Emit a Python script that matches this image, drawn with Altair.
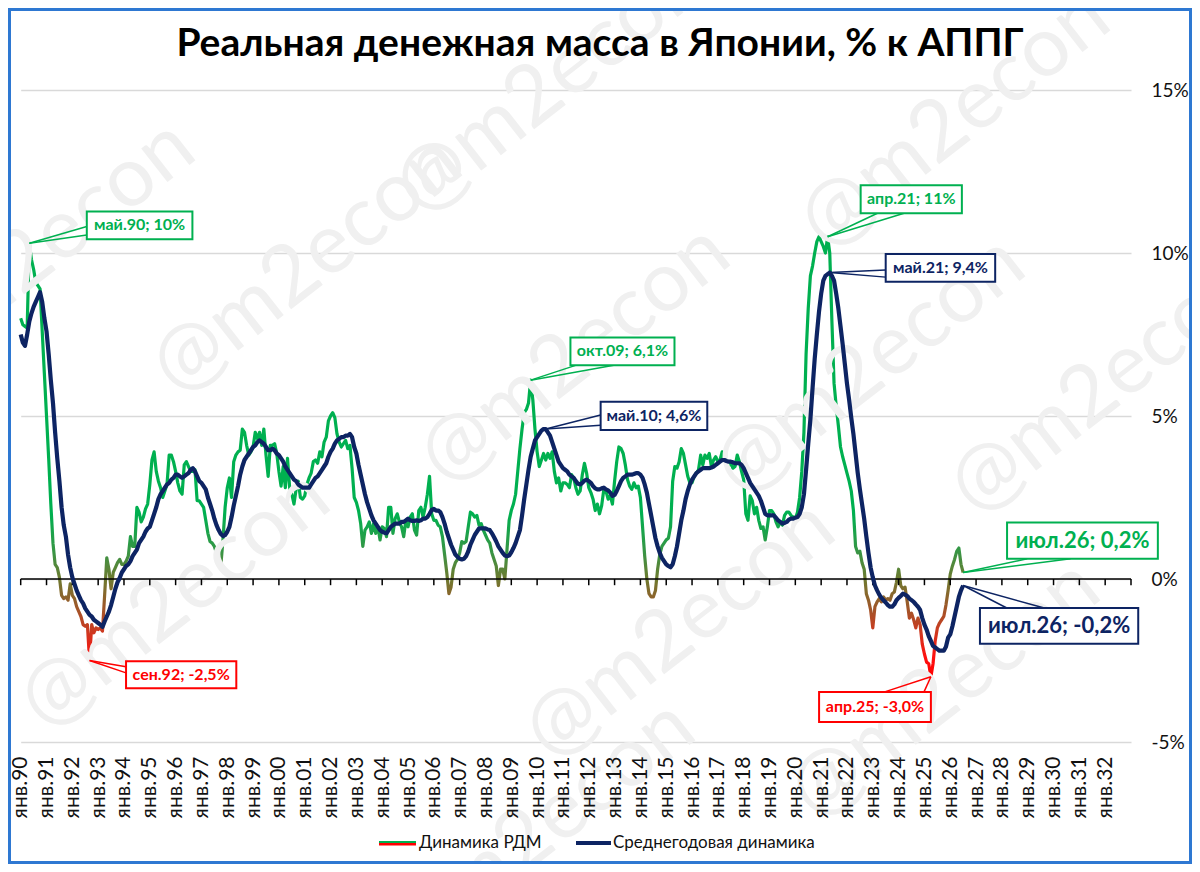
import altair as alt
import pandas as pd

FONT = "Lato, 'Open Sans', sans-serif"
GREEN = "#00B050"
RED = "#FF0000"
NAVY = "#0D2463"

# ---------------- data (monthly, from Jan 1990) ----------------
START_YEAR = 1990

rdm_1990s = [
    8.0, 7.8, 7.75, 7.7, 10.3, 9.8, 9.5, 9.1, 9.0, 8.9, 7.6, 6.3,
    5.0, 3.7, 2.3, 1.1, 0.45, 0.35, 0.05, -0.5, -0.6, -0.55, -0.65, -0.15,
    -0.5, -0.6, -0.85, -1.0, -1.15, -1.4, -1.45, -1.4, -2.5, -1.4, -1.65, -1.5,
    -1.55, -1.5, -1.6, -0.5, 0.65, 0.3, -0.3, 0.2, 0.35, 0.5, 0.6, 0.45,
    0.45, 0.55, 0.7, 1.3, 1.0, 1.0, 2.2, 2.05, 1.75, 1.9, 2.15, 2.3,
    2.9, 3.65, 3.9, 3.3, 3.0, 2.8, 2.5, 2.7, 2.9, 3.8, 3.8, 3.6,
    3.3, 2.95, 2.7, 2.6, 3.5, 3.6, 3.45, 3.3, 3.3, 3.35, 2.4, 2.4,
    2.3, 2.2, 1.8, 1.4, 1.15, 1.1, 1.0, 0.8, 1.0, 0.4, 1.2, 2.2,
    2.8, 3.1, 2.5, 3.6, 3.8, 3.9, 3.95, 4.6, 4.5, 4.1, 3.8, 3.9,
    4.05, 4.5, 4.3, 4.5, 4.1, 4.6, 3.8, 3.15, 4.1, 4.1, 4.15, 3.85,
]
rdm_2000s = [
    3.3, 2.85, 3.45, 2.8, 3.7, 2.8, 2.6, 2.3, 2.75, 3.0, 2.5, 2.45,
    2.55, 2.9, 3.1, 3.25, 3.6, 3.65, 3.55, 3.9, 3.75, 4.2, 4.35, 4.85,
    5.0, 5.1, 4.95, 4.45, 4.2, 4.05, 4.15, 4.25, 4.0, 4.1, 3.4, 2.5,
    2.35, 2.1, 1.7, 1.0, 1.5, 1.6, 1.75, 1.4, 1.7, 1.4, 1.6, 1.2,
    1.6, 1.55, 1.3, 2.2, 2.2, 1.4, 1.85, 2.0, 1.75, 1.6, 1.3, 1.8,
    1.6, 1.9, 2.0, 1.5, 1.35, 2.1, 2.2, 1.9, 2.2, 2.6, 3.15, 2.0,
    1.8, 1.8, 1.65, 1.6, 1.3, 0.75, 0.2, -0.45, -0.25, 0.3, 0.5, 0.6,
    0.8, 1.15, 1.1, 1.15, 1.6, 2.05, 2.0, 1.9, 1.95, 1.65, 1.7, 1.5,
    1.35, 1.2, 1.1, 0.8, 0.6, 0.4, -0.2, 0.3, 0.3, 0.0, 0.9, 1.8,
    2.1, 2.3, 2.6, 3.3, 4.0, 4.6, 5.1, 5.2, 5.4, 6.1, 5.5, 4.6,
]
rdm_2010s = [
    3.9, 3.45, 3.65, 3.85, 3.65, 3.85, 3.7, 3.9, 3.3, 2.95, 3.1, 2.7,
    2.95, 2.95, 2.9, 2.8, 3.2, 3.1, 2.8, 2.6, 2.7, 3.2, 3.55, 3.25,
    2.8, 2.65, 2.45, 2.1, 2.3, 2.0, 2.25, 2.75, 2.7, 2.45, 2.55, 2.3,
    3.0, 3.6, 4.05, 4.0, 3.85, 3.5, 3.05, 2.85, 2.75, 2.95, 2.8, 2.85,
    2.5, 1.6, 0.7, 0.0, -0.45, -0.55, -0.55, -0.35, 0.3, 0.75, 1.0, 1.1,
    1.2, 1.25, 1.6, 3.0, 3.45, 3.4, 3.6, 4.0, 3.85, 3.5, 3.15, 2.95,
    2.95, 3.15, 3.25, 3.35, 3.8, 3.5, 3.8, 3.7, 3.85, 3.45, 3.65, 3.75,
    3.6, 3.65, 3.9, 3.7, 3.6, 3.45, 3.6, 3.4, 3.45, 3.8, 3.6, 3.3,
    3.05, 2.0, 1.8, 2.55, 2.4, 2.0, 2.2, 1.8, 1.55, 1.6, 1.2, 1.6,
    2.1, 2.1, 2.0, 1.75, 1.6, 1.75, 1.65, 1.95, 2.05, 2.05, 1.95, 1.9,
]
rdm_2020s = [
    1.85, 2.05, 2.5, 3.3, 4.5, 6.9, 8.3, 9.3, 9.6, 10.0, 10.35, 10.5,
    10.35, 10.2, 10.0, 10.5, 10.0, 7.9, 6.0, 5.3, 4.7, 4.05, 3.75, 3.5,
    3.25, 3.0, 2.7, 2.1, 1.0, 0.8, 0.85, 0.5, 0.3, -0.45, -0.65, -0.95,
    -1.5, -0.85, -0.7, -0.6, -0.7, -0.55, -0.65, -0.6, -0.65, -0.45, -0.4, -0.1,
    0.3, -0.2, -0.3, -0.25, -0.7, -1.2, -1.05, -1.25, -1.5, -1.2, -1.4, -2.0,
    -2.3, -2.55, -2.6, -3.0, -2.6, -1.9, -1.5, -1.35, -1.25, -1.15, -0.8, -0.35,
    0.15, 0.4, 0.6, 0.85, 0.95, 0.45, 0.2,
]

avg_1990s = [
    7.5, 7.25, 7.15, 7.5, 7.9, 8.15, 8.35, 8.5, 8.65, 8.8, 8.5, 8.0,
    7.6, 6.9, 6.1, 5.4, 4.5, 3.7, 3.0, 2.2, 1.65, 1.3, 0.75, 0.35,
    0.05, -0.15, -0.35, -0.5, -0.65, -0.75, -0.9, -1.0, -1.1, -1.15, -1.25, -1.3,
    -1.35, -1.4, -1.47, -1.3, -1.15, -1.0, -0.8, -0.55, -0.3, -0.1, 0.03, 0.2,
    0.3, 0.4, 0.45, 0.55, 0.7, 0.8, 0.9, 1.1, 1.2, 1.3, 1.45, 1.55,
    1.6, 1.8, 2.0, 2.2, 2.45, 2.6, 2.7, 2.8, 2.9, 2.95, 3.05, 3.1,
    3.2, 3.2, 3.15, 3.1, 3.15, 3.2, 3.25, 3.35, 3.4, 3.3, 3.15, 3.0,
    2.95, 2.85, 2.75, 2.5, 2.3, 2.1, 1.85, 1.65, 1.5, 1.38, 1.32, 1.35,
    1.45, 1.6, 1.9, 2.25, 2.55, 2.85, 3.2, 3.45, 3.65, 3.75, 3.85, 3.95,
    4.05, 4.1, 4.2, 4.25, 4.2, 4.15, 4.05, 3.95, 3.95, 4.0, 3.95, 3.85,
]
avg_2000s = [
    3.8, 3.7, 3.6, 3.45, 3.35, 3.25, 3.15, 3.05, 3.0, 2.9, 2.85, 2.8,
    2.8, 2.8, 2.8, 2.9, 3.0, 3.1, 3.15, 3.25, 3.35, 3.45, 3.55, 3.75,
    3.9, 4.0, 4.15, 4.25, 4.3, 4.35, 4.35, 4.4, 4.4, 4.45, 4.35, 4.05,
    3.85, 3.5, 3.2, 2.9, 2.6, 2.35, 2.15, 1.95, 1.8, 1.7, 1.6, 1.5,
    1.45, 1.42, 1.4, 1.5, 1.6, 1.65, 1.7, 1.7, 1.7, 1.75, 1.75, 1.8,
    1.85, 1.8, 1.78, 1.78, 1.8, 1.78, 1.8, 1.85, 1.85, 1.9, 2.0, 2.12,
    2.15, 2.1, 2.1, 2.05, 1.9, 1.7, 1.45, 1.25, 1.05, 0.9, 0.75, 0.68,
    0.62, 0.6, 0.62, 0.7, 0.85, 1.05, 1.2, 1.35, 1.45, 1.55, 1.55, 1.55,
    1.55, 1.52, 1.5, 1.4, 1.28, 1.15, 1.0, 0.9, 0.8, 0.72, 0.7, 0.72,
    0.82, 0.95, 1.1, 1.3, 1.5, 1.95, 2.45, 2.9, 3.35, 3.75, 4.0, 4.25,
]
avg_2010s = [
    4.35, 4.45, 4.55, 4.6, 4.6, 4.5, 4.4, 4.2, 4.0, 3.8, 3.6, 3.5,
    3.4, 3.35, 3.3, 3.2, 3.15, 3.1, 3.0, 2.92, 2.9, 2.95, 3.02, 3.05,
    3.0, 2.95, 2.85, 2.78, 2.75, 2.75, 2.78, 2.8, 2.75, 2.72, 2.65, 2.55,
    2.58, 2.7, 2.85, 3.0, 3.1, 3.15, 3.2, 3.2, 3.2, 3.22, 3.25, 3.25,
    3.2, 3.1, 2.9, 2.65, 2.3, 1.95, 1.6, 1.25, 1.0, 0.8, 0.65, 0.55,
    0.45, 0.4, 0.36, 0.45, 0.7, 1.0, 1.4, 1.8, 2.1, 2.45, 2.7, 2.9,
    3.05, 3.15, 3.25, 3.3, 3.35, 3.4, 3.4, 3.4, 3.4, 3.42, 3.45, 3.5,
    3.55, 3.6, 3.65, 3.65, 3.62, 3.6, 3.6, 3.58, 3.55, 3.55, 3.55, 3.5,
    3.4, 3.25, 3.1, 2.95, 2.85, 2.75, 2.65, 2.55, 2.4, 2.2, 2.0, 1.95,
    1.95, 1.95, 1.95, 1.88, 1.8, 1.75, 1.7, 1.72, 1.75, 1.82, 1.85, 1.85,
]
avg_2020s = [
    1.88, 1.9, 2.0, 2.2, 2.6, 3.35, 4.15, 4.9, 5.85, 6.75, 7.5, 8.2,
    8.75, 9.15, 9.3, 9.35, 9.4, 9.3, 9.15, 8.75, 8.3, 7.75, 7.2, 6.6,
    6.0, 5.5, 4.95, 4.45, 3.85, 3.25, 2.75, 2.3, 1.85, 1.3, 0.8, 0.35,
    0.05, -0.2, -0.35, -0.48, -0.58, -0.65, -0.72, -0.8, -0.85, -0.85, -0.78, -0.65,
    -0.58, -0.52, -0.45, -0.48, -0.52, -0.6, -0.65, -0.7, -0.78, -0.85, -0.95, -1.2,
    -1.4, -1.55, -1.75, -1.9, -2.05, -2.1, -2.15, -2.2, -2.2, -2.2, -2.08, -1.8,
    -1.7, -1.45, -1.15, -0.85, -0.55, -0.35, -0.2,
]

rdm = rdm_1990s + rdm_2000s + rdm_2010s + rdm_2020s
avg = avg_1990s + avg_2000s + avg_2010s + avg_2020s
t = [START_YEAR + i / 12 for i in range(len(rdm))]
df = pd.DataFrame({"t": t, "rdm": rdm, "avg": avg})

label_years = list(range(1990, 2033))
tick_years = list(range(1990, 2034))
y_ticks = [-5, 0, 5, 10, 15]

# annotations: label, colour, series, month index of the point
ann_label = ["май.90; 10%", "сен.92; -2,5%", "окт.09; 6,1%", "май.10; 4,6%",
             "апр.21; 11%", "май.21; 9,4%", "июл.26; 0,2%", "июл.26; -0,2%",
             "апр.25; -3,0%"]
ann_color = [GREEN, RED, GREEN, NAVY, GREEN, NAVY, GREEN, NAVY, RED]
ann_series = ["rdm", "rdm", "rdm", "avg", "rdm", "avg", "rdm", "avg", "rdm"]
ann_month = [4, 32, 237, 244, 375, 376, 438, 438, 423]
# box placement (data units) and leader end points
ann_box_t = [(1992.56, 1996.65), (1994.08, 1998.35), (2011.29, 2015.32), (2012.46, 2016.59),
             (2022.53, 2026.45), (2023.50, 2027.74), (2028.20, 2034.04), (2027.15, 2033.28),
             (2020.92, 2025.25)]
ann_box_v = [(10.42, 11.27), (-3.35, -2.52), (6.56, 7.41), (4.57, 5.44),
             (11.22, 12.08), (9.12, 9.97), (0.62, 1.73), (-1.99, -0.89),
             (-4.39, -3.47)]
ann_lead = [((1992.56, 10.81), (1992.56, 10.55)), ((1994.08, -2.69), (1994.08, -2.88)),
            ((2011.52, 6.56), (2012.97, 6.56)), ((2012.46, 5.03), (2012.46, 4.72)),
            ((2023.18, 11.22), (2024.21, 11.22)), ((2023.50, 9.48), (2023.50, 9.26)),
            ((2028.98, 0.62), (2030.66, 0.62)), ((2028.19, -0.89), (2029.64, -0.89)),
            ((2023.43, -3.47), (2024.98, -3.47))]
ann_size = [16, 16, 16, 16, 16, 16, 22, 22, 16]

series = {"rdm": rdm, "avg": avg}
rows = []
for i in range(len(ann_label)):
    pt_t = START_YEAR + ann_month[i] / 12
    pt_v = series[ann_series[i]][ann_month[i]]
    (b1, b2), (v1, v2) = ann_box_t[i], ann_box_v[i]
    (l1t, l1v), (l2t, l2v) = ann_lead[i]
    rows.append(dict(label=ann_label[i], color=ann_color[i], pt=pt_t, pv=pt_v,
                     bt1=b1, bt2=b2, bv1=v1, bv2=v2, ct=(b1 + b2) / 2, cv=(v1 + v2) / 2,
                     l1t=l1t, l1v=l1v, l2t=l2t, l2v=l2v, fs=ann_size[i]))
ann = pd.DataFrame(rows)

# ---------------- scales / axes ----------------
x_scale = alt.Scale(domain=[1990, 2033], nice=False, zero=False)
y_scale = alt.Scale(domain=[-5, 15], nice=False, zero=False)

x_axis = alt.Axis(values=label_years,
                  labelExpr="'янв.' + (datum.value % 100 < 10 ? '0' : '') + (datum.value % 100)",
                  labelAngle=270, labelFont=FONT, labelFontSize=21, labelColor="#111111",
                  labelPadding=14, labelOverlap=False, labelFlush=False,
                  grid=False, domain=False, ticks=False, title=None, zindex=1)
y_axis = alt.Axis(orient="right", values=y_ticks, labelExpr="datum.value + '%'",
                  labelFont=FONT, labelFontSize=19, labelColor="#111111", labelPadding=20,
                  grid=True, gridColor="#D9D9D9", gridWidth=1.5,
                  domain=False, ticks=False, title=None, zindex=0)

# every layer shares the scales and the same axis definitions
X = lambda f: alt.X(f, scale=x_scale, axis=x_axis, title=None)
Y = lambda f: alt.Y(f, scale=y_scale, axis=y_axis, title=None)

# gradient for the РДМ line (by value)
vmax, vmin = max(rdm), min(rdm)
off = lambda v: round((vmax - v) / (vmax - vmin), 4)
grad = alt.Gradient(
    gradient="linear", x1=0, x2=0, y1=0, y2=1,
    stops=[alt.GradientStop(color=GREEN, offset=0),
           alt.GradientStop(color=GREEN, offset=off(2.0)),
           alt.GradientStop(color="#3A9444", offset=off(0.8)),
           alt.GradientStop(color="#6E7A30", offset=off(0.0)),
           alt.GradientStop(color="#9A5A2A", offset=off(-0.8)),
           alt.GradientStop(color="#CC3A20", offset=off(-1.6)),
           alt.GradientStop(color="#FF1010", offset=off(-2.4)),
           alt.GradientStop(color=RED, offset=1)])

one = pd.DataFrame({"a": [0]})

# ---------------- watermarks (decoration, pixel placed) ----------------
wm_pos = [(40, 250), (307, 265), (550, 85), (955, 120), (575, 355), (870, 366),
          (1105, 385), (175, 600), (680, 630), (945, 690), (540, 830)]
watermarks = [
    alt.Chart(one).mark_text(text="@m2econ", font=FONT, fontSize=84, angle=322,
                             color="#F0F0F0", align="center", baseline="middle").encode(
        x=alt.value(px - 20.7), y=alt.value(py - 90))
    for px, py in wm_pos
]

# ---------------- main layers ----------------
base = alt.Chart(df)
green_line = base.mark_line(stroke=grad, strokeWidth=3.2, strokeJoin="round").encode(
    x=X("t:Q"), y=Y("rdm:Q"))
blue_line = base.mark_line(color=NAVY, strokeWidth=4.2, strokeJoin="round").encode(
    x=X("t:Q"), y=Y("avg:Q"))

zero_df = pd.DataFrame({"t0": [1990], "t1": [2033], "v": [0]})
zero_line = alt.Chart(zero_df).mark_rule(color="black", strokeWidth=1.5).encode(
    x=X("t0:Q"), x2="t1:Q", y=Y("v:Q"))
tick_df = pd.DataFrame({"t": tick_years, "v0": [0] * len(tick_years), "v1": [-0.19] * len(tick_years)})
zero_ticks = alt.Chart(tick_df).mark_rule(color="black", strokeWidth=1.5).encode(
    x=X("t:Q"), y=Y("v0:Q"), y2="v1:Q")

ac = alt.Chart(ann)
lead1 = ac.mark_rule(strokeWidth=1.5).encode(
    x=X("pt:Q"), y=Y("pv:Q"), x2="l1t:Q", y2="l1v:Q", color=alt.Color("color:N", scale=None))
lead2 = ac.mark_rule(strokeWidth=1.5).encode(
    x=X("pt:Q"), y=Y("pv:Q"), x2="l2t:Q", y2="l2v:Q", color=alt.Color("color:N", scale=None))
boxes = ac.mark_rect(fill="white", strokeWidth=2).encode(
    x=X("bt1:Q"), x2="bt2:Q", y=Y("bv1:Q"), y2="bv2:Q", stroke=alt.Stroke("color:N", scale=None))
box_text = ac.mark_text(font=FONT, fontWeight="bold", align="center", baseline="middle").encode(
    x=X("ct:Q"), y=Y("cv:Q"), text="label:N", color=alt.Color("color:N", scale=None),
    size=alt.Size("fs:Q", scale=None))

# ---------------- title, legend, frame ----------------
title = alt.Chart(one).mark_text(text="Реальная денежная масса в Японии, % к АППГ", font=FONT,
                                 fontSize=39, fontWeight="bold", color="black",
                                 align="center", baseline="alphabetic").encode(
    x=alt.value(579.3), y=alt.value(-34))

leg_grad = alt.Gradient(gradient="linear", x1=0, x2=0, y1=0, y2=1,
                        stops=[alt.GradientStop(color=GREEN, offset=0),
                               alt.GradientStop(color=GREEN, offset=0.45),
                               alt.GradientStop(color=RED, offset=0.55),
                               alt.GradientStop(color=RED, offset=1)])
leg_sym1 = alt.Chart(one).mark_rect(fill=leg_grad).encode(
    x=alt.value(358.3), x2=alt.value(395.3), y=alt.value(751), y2=alt.value(755.5))
leg_txt1 = alt.Chart(one).mark_text(text="Динамика РДМ", font=FONT, fontSize=17, color="#111111",
                                    align="left", baseline="middle").encode(
    x=alt.value(398.3), y=alt.value(753))
leg_sym2 = alt.Chart(one).mark_rule(color=NAVY, strokeWidth=4).encode(
    x=alt.value(555.3), x2=alt.value(590.3), y=alt.value(753))
leg_txt2 = alt.Chart(one).mark_text(text="Среднегодовая динамика", font=FONT, fontSize=17,
                                    color="#111111", align="left", baseline="middle").encode(
    x=alt.value(592.3), y=alt.value(753))

frame = alt.Chart(one).mark_rect(fillOpacity=0, stroke="#2E78D2", strokeWidth=3).encode(
    x=alt.value(-11.2), x2=alt.value(1169.8), y=alt.value(-80.5), y2=alt.value(772.5))

chart = alt.layer(
    green_line, *watermarks, zero_line, zero_ticks, blue_line,
    lead1, lead2, boxes, box_text, title, leg_sym1, leg_txt1, leg_sym2, leg_txt2, frame
).properties(
    width=1110.3, height=652,
    padding={"left": 12.7, "top": 82, "right": 61, "bottom": 122},
    autosize=alt.AutoSizeParams(type="none"),
    background="white",
).configure_view(stroke=None)

chart.save("out.html", embed_options={"renderer": "svg", "actions": False})
